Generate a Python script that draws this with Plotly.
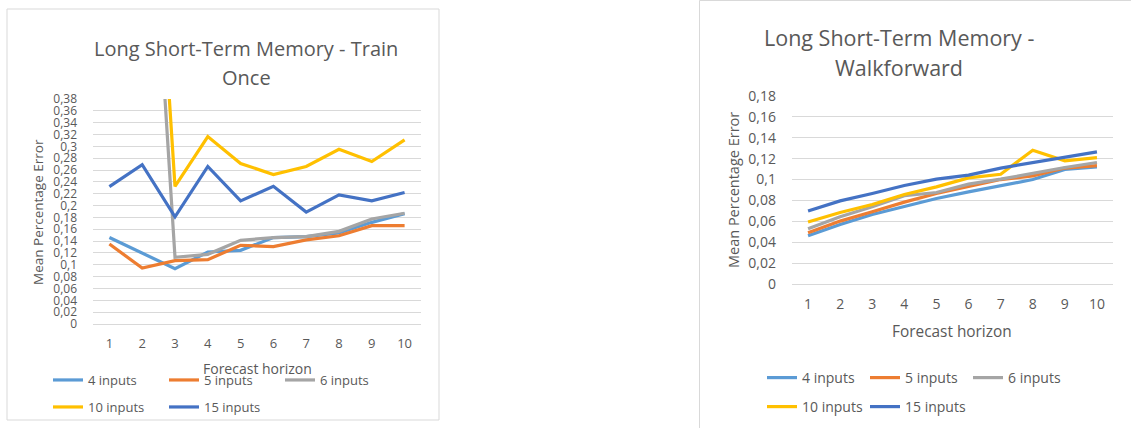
import plotly.graph_objects as go

# Forecast horizons (x categories)
horizons = ["1", "2", "3", "4", "5", "6", "7", "8", "9", "10"]

# Mean percentage error, LSTM trained once
train_4 = [0.146, 0.120, 0.0935, 0.1216, 0.1244, 0.146, 0.1475, 0.1537, 0.1717, 0.1864]
train_5 = [0.135, 0.0946, 0.107, 0.1087, 0.133, 0.1306, 0.142, 0.149, 0.166, 0.166]
train_6 = [1.02, 0.99, 0.1126, 0.1177, 0.1413, 0.146, 0.1475, 0.1565, 0.1773, 0.187]
train_10 = [1.15, 1.09, 0.2325, 0.3165, 0.271, 0.2525, 0.266, 0.295, 0.2745, 0.311]
train_15 = [0.232, 0.269, 0.181, 0.266, 0.208, 0.2325, 0.189, 0.218, 0.208, 0.222]

# Mean percentage error, LSTM walkforward
walk_4 = [0.0462, 0.057, 0.0666, 0.0739, 0.0819, 0.0882, 0.0943, 0.100, 0.1096, 0.1121]
walk_5 = [0.049, 0.0602, 0.0691, 0.0784, 0.0867, 0.0937, 0.100, 0.1035, 0.111, 0.1134]
walk_6 = [0.0529, 0.0644, 0.0739, 0.0845, 0.0876, 0.0956, 0.1004, 0.106, 0.1115, 0.1163]
walk_10 = [0.0593, 0.0685, 0.0761, 0.0857, 0.093, 0.1016, 0.1051, 0.128, 0.118, 0.121]
walk_15 = [0.0698, 0.0796, 0.0867, 0.0943, 0.1004, 0.1042, 0.111, 0.1163, 0.121, 0.1265]

series_names = ["4 inputs", "5 inputs", "6 inputs", "10 inputs", "15 inputs"]
series_colors = ["#5B9BD5", "#ED7D31", "#A5A5A5", "#FFC000", "#4472C4"]

# Y tick labels with decimal comma
train_tickvals = [i * 0.02 for i in range(20)]
train_ticktext = ["0", "0,02", "0,04", "0,06", "0,08", "0,1", "0,12", "0,14", "0,16", "0,18",
                  "0,2", "0,22", "0,24", "0,26", "0,28", "0,3", "0,32", "0,34", "0,36", "0,38"]
walk_tickvals = [i * 0.02 for i in range(10)]
walk_ticktext = ["0", "0,02", "0,04", "0,06", "0,08", "0,1", "0,12", "0,14", "0,16", "0,18"]

titles_train = ["Long Short-Term Memory - Train", "Once"]
titles_walk = ["Long Short-Term Memory -", "Walkforward"]
x_title = "Forecast horizon"
y_title = "Mean Percentage Error"

W, H = 1131, 428
FONT = "Open Sans"
GREY_TEXT = "#595959"
GRID = "#D9D9D9"


def px(x):
    return x / W


def py(y):
    return 1 - y / H


fig = go.Figure()

train_sets = [train_4, train_5, train_6, train_10, train_15]
walk_sets = [walk_4, walk_5, walk_6, walk_10, walk_15]

for i, (name, color, vals) in enumerate(zip(series_names, series_colors, train_sets)):
    fig.add_trace(go.Scatter(
        x=horizons, y=vals, name=name, mode="lines",
        line=dict(color=color, width=3.2),
        xaxis="x", yaxis="y",
        legend="legend" if i < 3 else "legend2",
    ))

for i, (name, color, vals) in enumerate(zip(series_names, series_colors, walk_sets)):
    fig.add_trace(go.Scatter(
        x=horizons, y=vals, name=name, mode="lines",
        line=dict(color=color, width=3.2),
        xaxis="x2", yaxis="y2",
        legend="legend3" if i < 3 else "legend4",
    ))

common_x = dict(type="category", showgrid=False, zeroline=False, showline=False,
                ticks="", ticklabelstandoff=10, automargin=False)
common_y = dict(showgrid=True, gridcolor=GRID, gridwidth=1, zeroline=True,
                zerolinecolor=GRID, zerolinewidth=1, showline=False, ticks="",
                tickmode="array", automargin=False)

legend_common = dict(orientation="h", bgcolor="rgba(0,0,0,0)",
                     xref="container", yref="container",
                     xanchor="left", yanchor="middle", entrywidthmode="pixels",
                     itemclick=False, itemdoubleclick=False)

fig.update_layout(
    width=W, height=H,
    autosize=False,
    margin=dict(l=0, r=0, t=0, b=0, pad=0, autoexpand=False),
    paper_bgcolor="white", plot_bgcolor="white",
    showlegend=True,
    xaxis=dict(common_x, domain=[px(93), px(421)], range=[-0.5, 9.5], anchor="y",
               tickfont=dict(family=FONT, size=13, color=GREY_TEXT)),
    yaxis=dict(common_y, domain=[py(324), py(99)], range=[0, 0.38], anchor="x",
               tickvals=train_tickvals, ticktext=train_ticktext, ticklabelstandoff=15,
               tickfont=dict(family=FONT, size=12, color=GREY_TEXT)),
    xaxis2=dict(common_x, domain=[px(792), px(1113)], range=[-0.5, 9.5], anchor="y2",
                tickfont=dict(family=FONT, size=14, color=GREY_TEXT)),
    yaxis2=dict(common_y, domain=[py(284), py(96)], range=[0, 0.18], anchor="x2",
                tickvals=walk_tickvals, ticktext=walk_ticktext, ticklabelstandoff=15,
                tickfont=dict(family=FONT, size=14, color=GREY_TEXT)),
    legend=dict(legend_common, x=px(48), y=py(380), entrywidth=71,
                font=dict(family=FONT, size=13, color=GREY_TEXT)),
    legend2=dict(legend_common, x=px(48), y=py(407), entrywidth=71,
                 font=dict(family=FONT, size=13, color=GREY_TEXT)),
    legend3=dict(legend_common, x=px(762), y=py(378), entrywidth=58,
                 font=dict(family=FONT, size=14, color=GREY_TEXT)),
    legend4=dict(legend_common, x=px(762), y=py(407), entrywidth=58,
                 font=dict(family=FONT, size=14, color=GREY_TEXT)),
)

# Chart frames
fig.add_shape(type="rect", xref="paper", yref="paper",
              x0=px(7), x1=px(439), y0=py(420), y1=py(9),
              line=dict(color="#D9D9D9", width=1), layer="below")
fig.add_shape(type="rect", xref="paper", yref="paper",
              x0=px(699.5), x1=px(1140), y0=py(440), y1=py(0.5),
              line=dict(color="#D9D9D9", width=1), layer="below")

annotations = []
# Chart titles
for text, y in zip(titles_train, [48, 77]):
    annotations.append(dict(text=text, x=px(246), y=py(y), xref="paper", yref="paper",
                            showarrow=False, xanchor="center", yanchor="middle",
                            font=dict(family=FONT, size=20, color=GREY_TEXT)))
for text, y in zip(titles_walk, [37, 67]):
    annotations.append(dict(text=text, x=px(899), y=py(y), xref="paper", yref="paper",
                            showarrow=False, xanchor="center", yanchor="middle",
                            font=dict(family=FONT, size=21.5, color=GREY_TEXT)))
# Axis titles
annotations.append(dict(text=x_title, x=px(257), y=py(368), xref="paper", yref="paper",
                        showarrow=False, xanchor="center", yanchor="middle",
                        font=dict(family=FONT, size=14, color=GREY_TEXT)))
annotations.append(dict(text=x_title, x=px(952), y=py(331), xref="paper", yref="paper",
                        showarrow=False, xanchor="center", yanchor="middle",
                        font=dict(family=FONT, size=15.4, color=GREY_TEXT)))
annotations.append(dict(text=y_title, x=px(38), y=py(212), xref="paper", yref="paper",
                        showarrow=False, xanchor="center", yanchor="middle", textangle=-90,
                        font=dict(family=FONT, size=13.5, color=GREY_TEXT)))
annotations.append(dict(text=y_title, x=px(733), y=py(190), xref="paper", yref="paper",
                        showarrow=False, xanchor="center", yanchor="middle", textangle=-90,
                        font=dict(family=FONT, size=14.5, color=GREY_TEXT)))
fig.update_layout(annotations=annotations)

fig.write_html("out.html")
